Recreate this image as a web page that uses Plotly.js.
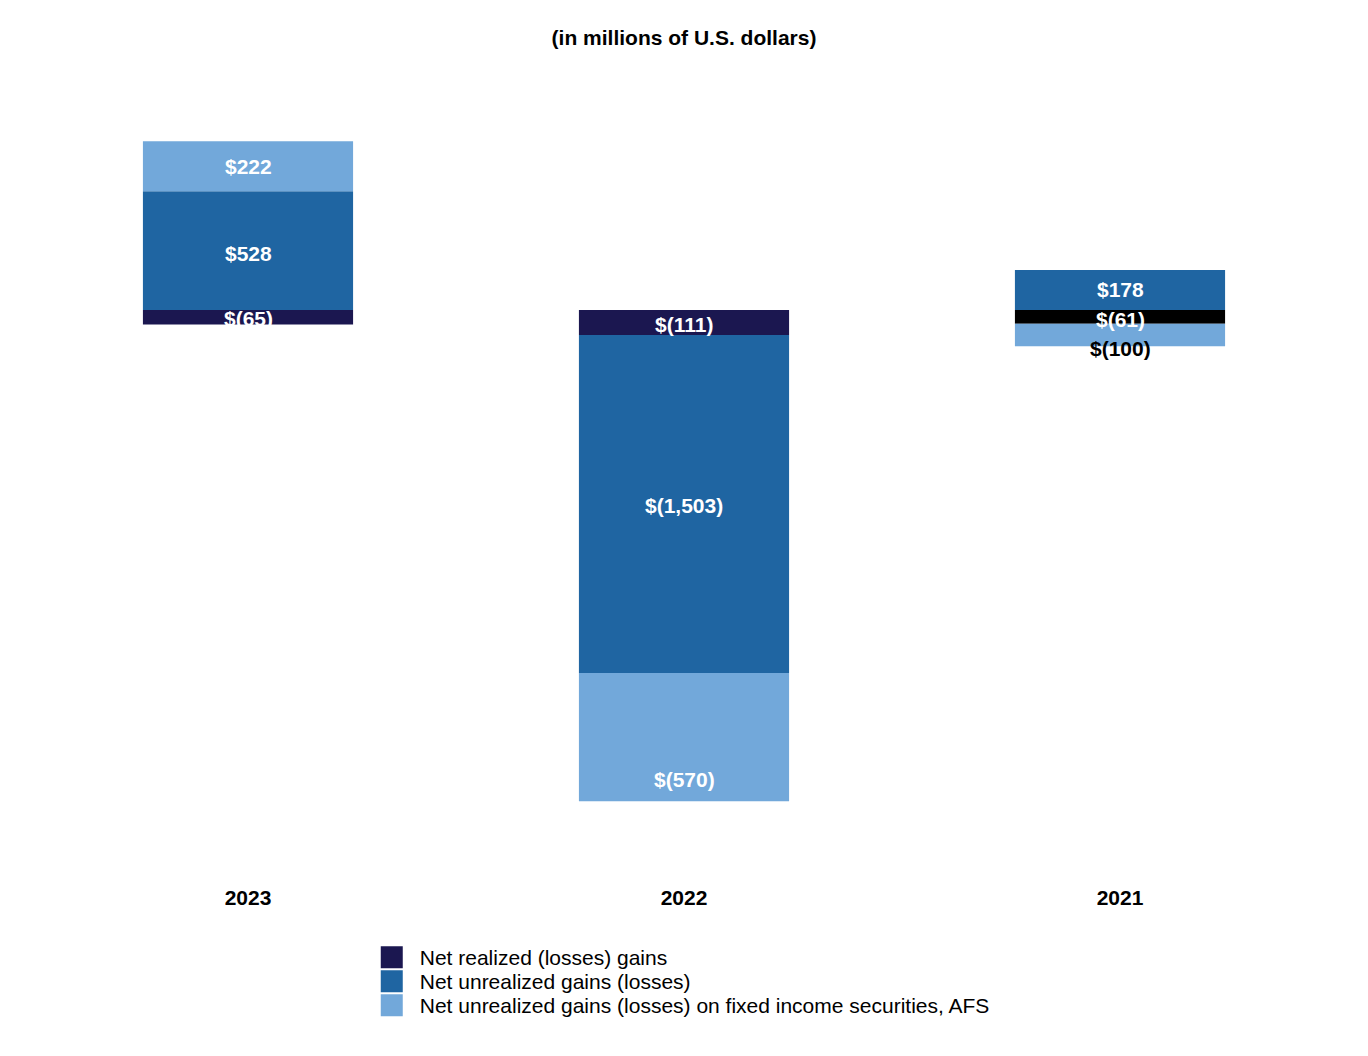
<!DOCTYPE html>
<html>
<head>
<meta charset="utf-8">
<script src="https://cdn.plot.ly/plotly-3.0.1.min.js"></script>
<style>html,body{margin:0;padding:0;background:#fff;}#chart{width:1368px;height:1056px;}</style>
</head>
<body>
<div id="chart"></div>
<script>
// ---- data ----
var years = ['2023', '2022', '2021'];
var seriesNames = [
  'Net realized (losses) gains',
  'Net unrealized gains (losses)',
  'Net unrealized gains (losses) on fixed income securities, AFS'
];
var realized = [-65, -111, -61];
var unrealized = [528, -1503, 178];
var afs = [222, -570, -100];

// ---- styles ----
var seriesColors = [
  ['#1b1750', '#1b1750', '#000000'],
  '#1f65a2',
  '#72a8da'
];
var legendColors = ['#1b1750', '#1f65a2', '#72a8da'];
var labelColors = [
  ['#ffffff', '#ffffff', '#ffffff'],
  ['#ffffff', '#ffffff', '#ffffff'],
  ['#ffffff', '#ffffff', '#000000']
];
var labelShift = [   // pixel shift (negative = downward)
  [-1, -2, -3],
  [-3, -2, 0],
  [0, -42, -14]
];

var FONT = '"Liberation Sans", Arial, sans-serif';
var series = [realized, unrealized, afs];

function fmt(v) {
  var s = Math.abs(v).toLocaleString('en-US');
  return v < 0 ? '$(' + s + ')' : '$' + s;
}

var traces = series.map(function (vals, i) {
  return {
    type: 'bar',
    name: seriesNames[i],
    x: years,
    y: vals,
    marker: { color: seriesColors[i], line: { width: 0 } },
    hoverinfo: 'skip'
  };
});

// annotations at centre of each relative-stacked segment (category index on x)
var annotations = [];
var posBase = years.map(function () { return 0; });
var negBase = years.map(function () { return 0; });
series.forEach(function (vals, i) {
  vals.forEach(function (v, j) {
    var start, end;
    if (v >= 0) { start = posBase[j]; end = start + v; posBase[j] = end; }
    else { start = negBase[j]; end = start + v; negBase[j] = end; }
    annotations.push({
      x: j, y: (start + end) / 2, xref: 'x', yref: 'y',
      text: fmt(v), showarrow: false,
      yshift: labelShift[i][j],
      font: { family: FONT, size: 21, weight: 700, color: labelColors[i][j] }
    });
  });
});

var layout = {
  width: 1368, height: 1056,
  margin: { l: 30, r: 30, t: 80, b: 176 },
  paper_bgcolor: '#fff', plot_bgcolor: '#fff',
  barmode: 'relative',
  bargap: 0.518,
  title: {
    text: '(in millions of U.S. dollars)',
    x: 0.5, xanchor: 'center', y: 1 - 38 / 1056, yref: 'container', yanchor: 'middle',
    font: { family: FONT, size: 21, weight: 700, color: '#000' }
  },
  xaxis: {
    type: 'category', categoryorder: 'array', categoryarray: years,
    range: [-0.5, 2.5], autorange: false,
    showgrid: false, zeroline: false, showline: false, ticks: '',
    ticklabelstandoff: 3,
    tickfont: { family: FONT, size: 21, weight: 700, color: '#000' }
  },
  yaxis: {
    range: [-2534.5, 1022.7], autorange: false, visible: false,
    showgrid: false, zeroline: false, fixedrange: true
  },
  showlegend: true,
  legend: {
    orientation: 'v', x: 0.2674, xanchor: 'left', y: -0.07125, yanchor: 'top',
    font: { family: FONT, size: 21, color: '#000' },
    bgcolor: 'rgba(0,0,0,0)', traceorder: 'normal'
  },
  annotations: annotations,
  font: { family: FONT }
};

Plotly.newPlot('chart', traces, layout, { displayModeBar: false, staticPlot: true }).then(function (gd) {
  var items = gd.querySelectorAll('.legend .traces');
  var y0 = null;
  items.forEach(function (t, i) {
    var m = /translate\(([-\d.]+),\s*([-\d.]+)\)/.exec(t.getAttribute('transform') || '');
    if (m) {
      if (y0 === null) y0 = parseFloat(m[2]);
      t.setAttribute('transform', 'translate(' + m[1] + ',' + (y0 + i * 24) + ')');
    }
    var p = t.querySelector('.legendpoints path');
    if (p) {
      p.setAttribute('d', 'M3,11H-19V-11H3Z');
      p.style.fill = legendColors[i];
      p.style.stroke = 'none';
    }
  });
});
</script>
</body>
</html>
